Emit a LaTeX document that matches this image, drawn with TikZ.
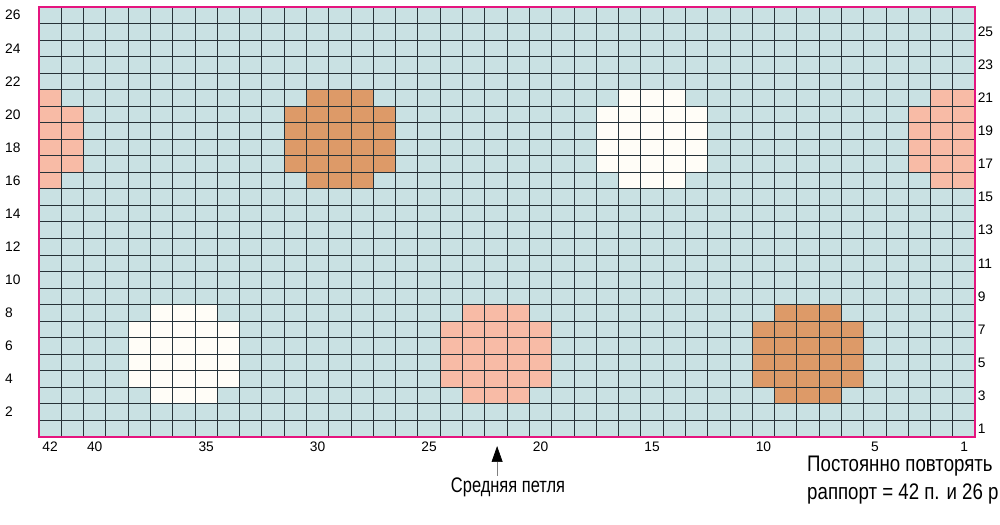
\documentclass[tikz,border=0pt]{standalone}
\usepackage{fontspec}
\setmainfont{Liberation Sans}
\newfontfamily\narrowfont[FakeStretch=0.78]{Liberation Sans}
\newfontfamily\notefont[FakeStretch=0.83]{Liberation Sans}
\usepackage{tikz}
\usetikzlibrary{arrows.meta}

\definecolor{cellblue}{HTML}{C9E1E3}
\definecolor{dotpink}{HTML}{F8BBA6}
\definecolor{dotbrown}{HTML}{DD9A68}
\definecolor{dotwhite}{HTML}{FFFDF7}
\definecolor{framepink}{HTML}{E5157F}
\definecolor{gridgray}{HTML}{263238}

% one round dot of the pattern: left column, bottom row, colour
\newcommand{\dotpatch}[3]{%
  \fill[#3] (#1+1,#2) -- ++(3,0) -- ++(0,1) -- ++(1,0) -- ++(0,4) -- ++(-1,0)
    -- ++(0,1) -- ++(-3,0) -- ++(0,-1) -- ++(-1,0) -- ++(0,-4) -- ++(1,0) -- cycle;}

\begin{document}
\begin{tikzpicture}[x=0.5573cm, y=0.4135cm,
    num/.style={font=\fontsize{9.8}{11}\selectfont, inner sep=0pt},
    gridline/.style={draw=gridgray, line width=0.7pt},
    caption/.style={font=\narrowfont\fontsize{15}{19}\selectfont, inner sep=1pt}]
    \useasboundingbox (-1.75,-5.32) rectangle (43.11,26.42);

    % The chart background
    \fill[cellblue] (0,0) rectangle (42,26);

    % The dots (the pink one wraps round the edges)
    \begin{scope}
        \clip (0,0) rectangle (42,26);
        \dotpatch{11}{15}{dotbrown}
        \dotpatch{25}{15}{dotwhite}
        \dotpatch{-3}{15}{dotpink}
        \dotpatch{39}{15}{dotpink}
        \dotpatch{4}{2}{dotwhite}
        \dotpatch{18}{2}{dotpink}
        \dotpatch{32}{2}{dotbrown}
    \end{scope}

    % Grid and frame
    \foreach \c in {1,...,41}
        \draw[gridline] (\c,0) -- (\c,26);
    \foreach \r in {1,...,25}
        \draw[gridline] (0,\r) -- (42,\r);
    \draw[gridline, line width=0.9pt] (20,0) -- (20,26);
    \draw[framepink, line width=1.4pt] (0,0) rectangle (42,26);

    % Row numbers
    \foreach \r in {2,4,...,26}
        \node[num, anchor=west] (left\r) at (-1.53,\r-0.5) {\r};
    \foreach \r in {1,3,...,25}
        \node[num, anchor=west] (right\r) at (42.1,\r-0.5) {\r};

    % Stitch numbers
    \foreach \s in {42,40,35,30,25,20,15,10,5,1}
        \node[num] (col\s) at (42.5-\s,-0.6) {\s};

    % Middle stitch
    \node[caption] (mid) at (21.04,-3.02) {Средняя петля};
    \coordinate (midtip) at (20.55,-0.55);
    \draw[gray, line width=0.5pt, -{Triangle[width=7.8pt, length=11.3pt, black]}]
        (mid.north -| midtip) -- (midtip);

    % Repeat note
    \node[caption, font=\notefont\fontsize{16}{20}\selectfont, inner sep=0pt,
        anchor=west, align=left]
        (repeat) at (34.45,-2.62) {Постоянно повторять\\раппорт = 42 п. и 26 р};
\end{tikzpicture}
\end{document}
